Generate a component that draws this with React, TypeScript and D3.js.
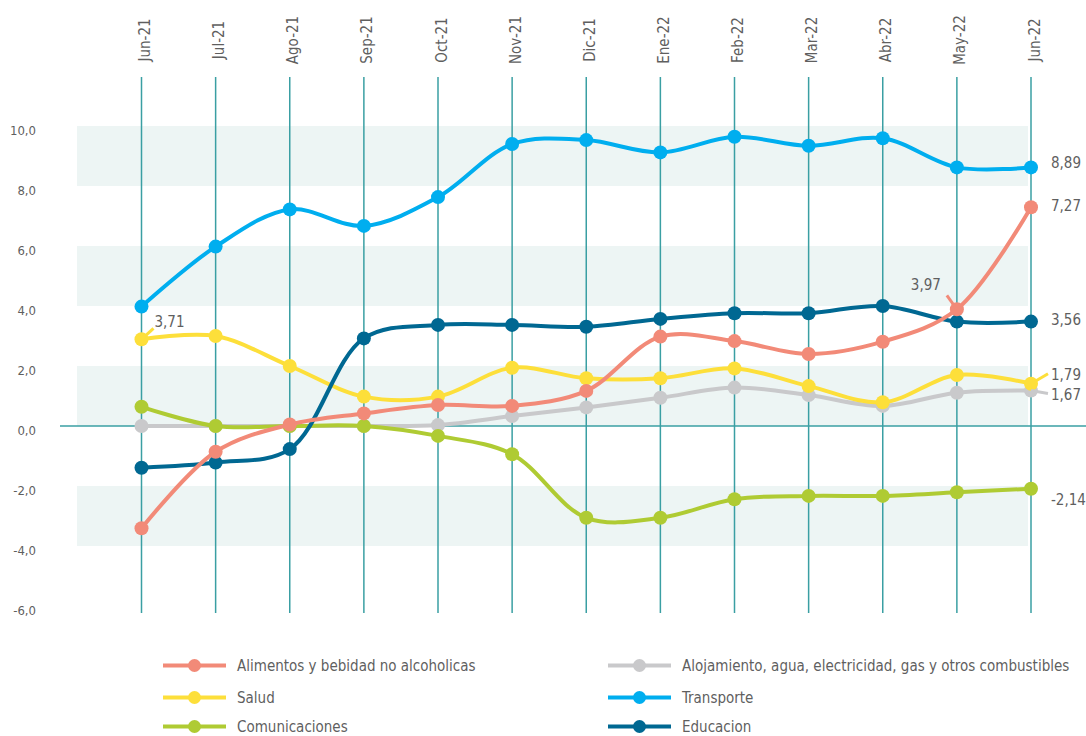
import React from "react";
import * as d3 from "d3";

const months = ["Jun-21","Jul-21","Ago-21","Sep-21","Oct-21","Nov-21","Dic-21","Ene-22","Feb-22","Mar-22","Abr-22","May-22","Jun-22"];
const yTicks = [10, 8, 6, 4, 2, 0, -2, -4, -6];
const bands: [number, number][] = [[8, 10], [4, 6], [0, 2], [-4, -2]];

const alimentos = [-3.41, -0.86, 0.05, 0.42, 0.7, 0.67, 1.17, 2.98, 2.83, 2.4, 2.81, 3.89, 7.29];
const alojamiento = [0, 0, 0, 0, 0.03, 0.33, 0.62, 0.94, 1.28, 1.03, 0.67, 1.11, 1.18];
const salud = [2.89, 3.0, 2.0, 0.98, 0.98, 1.94, 1.59, 1.59, 1.92, 1.33, 0.79, 1.7, 1.41];
const transporte = [3.98, 5.98, 7.22, 6.67, 7.63, 9.4, 9.53, 9.12, 9.64, 9.34, 9.59, 8.62, 8.62];
const comunicaciones = [0.64, 0, 0, 0, -0.33, -0.94, -3.06, -3.06, -2.44, -2.33, -2.33, -2.21, -2.09];
const educacion = [-1.39, -1.22, -0.77, 2.92, 3.37, 3.37, 3.31, 3.57, 3.76, 3.76, 4.0, 3.48, 3.48];

const seriesNames = [
  "Alimentos y bebidad no alcoholicas",
  "Alojamiento, agua, electricidad, gas y otros combustibles",
  "Salud",
  "Transporte",
  "Comunicaciones",
  "Educacion",
];
const seriesColors = ["#F28A78", "#C9C9CB", "#FDDF3A", "#00AEEF", "#AFCB33", "#006892"];
const seriesValues = [alimentos, alojamiento, salud, transporte, comunicaciones, educacion];

// annotation labels: [series index, point index, text]
const annotations: [number, number, string][] = [
  [2, 0, "3,71"],
  [0, 11, "3,97"],
  [3, 12, "8,89"],
  [0, 12, "7,27"],
  [5, 12, "3,56"],
  [2, 12, "1,79"],
  [1, 12, "1,67"],
  [4, 12, "-2,14"],
];

const FONT = "'Liberation Sans Narrow', 'DejaVu Sans Condensed', 'Roboto Condensed', Roboto, sans-serif";
const TEXT = "#5f5f5f";
const GRID = "#3a9fa3";

export default function App() {
  const x = d3.scalePoint<string>().domain(months).range([141.5, 1031]);
  const y = d3.scaleLinear().domain([-6, 10]).range([606, 126]);
  const line = d3
    .line<number>()
    .x((_, i) => x(months[i]) as number)
    .y((d) => y(d))
    .curve(d3.curveCatmullRom.alpha(0.5));

  const drawOrder = [1, 2, 4, 5, 0, 3];

  // offsets for annotation labels (layout only)
  const annLayout: Record<string, { tx: number; ty: number; lx?: number; ly?: number; anchor?: string }> = {
    "3,71": { tx: 13, ty: -17, lx: 12, ly: -11 },
    "3,97": { tx: -16, ty: -24, lx: -10, ly: -14, anchor: "end" },
    "8,89": { tx: 20, ty: -4 },
    "7,27": { tx: 20, ty: -1 },
    "3,56": { tx: 20, ty: -2 },
    "1,79": { tx: 20, ty: -9, lx: 17, ly: -10 },
    "1,67": { tx: 20, ty: 4, lx: 17, ly: 3 },
    "-2,14": { tx: 20, ty: 11 },
  };

  const legendRows = [665.5, 697.5, 726.5];
  const legendCols = [163, 608];

  return (
    <svg
      width={1086}
      height={736}
      style={{ position: "absolute", left: 0, top: 0, background: "#fff" }}
      fontFamily={FONT}
    >
      {bands.map(([a, b], i) => (
        <rect key={i} x={77} y={y(b)} width={951} height={y(a) - y(b)} fill="#EDF5F4" />
      ))}
      {months.map((m) => (
        <g key={m}>
          <line x1={x(m)} x2={x(m)} y1={77} y2={613} stroke={GRID} strokeWidth={1.5} />
          <text
            transform={`translate(${(x(m) as number) + 8.5},40) rotate(-90)`}
            textAnchor="middle"
            fontSize={15}
            fill={TEXT}
          >
            {m}
          </text>
        </g>
      ))}
      <line x1={60} x2={1086} y1={y(0)} y2={y(0)} stroke={GRID} strokeWidth={1.5} />
      {yTicks.map((t) => (
        <text key={t} x={36} y={y(t) + 4} textAnchor="end" dominantBaseline="central" fontSize={13} fill={TEXT}>
          {t.toFixed(1).replace(".", ",")}
        </text>
      ))}
      {drawOrder.map((si) => (
        <g key={si}>
          <path d={line(seriesValues[si]) as string} fill="none" stroke={seriesColors[si]} strokeWidth={4} />
          {seriesValues[si].map((v, i) => (
            <circle key={i} cx={x(months[i])} cy={y(v)} r={7} fill={seriesColors[si]} />
          ))}
        </g>
      ))}
      {annotations.map(([si, pi, label]) => {
        const px = x(months[pi]) as number;
        const py = y(seriesValues[si][pi]);
        const l = annLayout[label];
        return (
          <g key={label}>
            {l.lx !== undefined && (
              <line
                x1={px}
                y1={py}
                x2={px + (l.lx as number)}
                y2={py + (l.ly as number)}
                stroke={seriesColors[si]}
                strokeWidth={3}
              />
            )}
            <text
              x={px + l.tx}
              y={py + l.ty}
              textAnchor={l.anchor || "start"}
              dominantBaseline="central"
              fontSize={15}
              fill={TEXT}
            >
              {label}
            </text>
          </g>
        );
      })}
      {seriesNames.map((name, i) => {
        const col = i % 2;
        const row = Math.floor(i / 2);
        const lx = legendCols[col];
        const ly = legendRows[row];
        return (
          <g key={name}>
            <line x1={lx} x2={lx + 63} y1={ly} y2={ly} stroke={seriesColors[i]} strokeWidth={4} />
            <circle cx={lx + 31.5} cy={ly} r={6.5} fill={seriesColors[i]} />
            <text x={lx + 74} y={ly} dominantBaseline="central" fontSize={15} fill={TEXT}>
              {name}
            </text>
          </g>
        );
      })}
    </svg>
  );
}
